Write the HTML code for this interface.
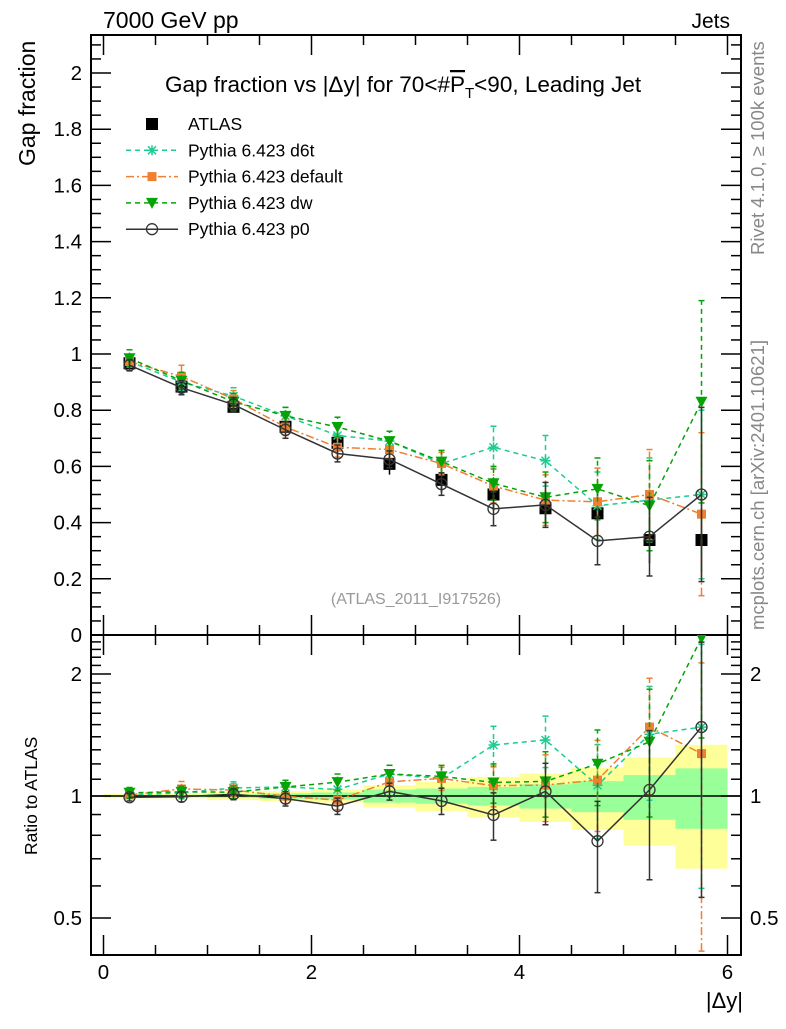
<!DOCTYPE html>
<html><head><meta charset="utf-8"><style>
body{margin:0;background:#fff}
svg{font-family:"Liberation Sans",sans-serif}
</style></head><body>
<svg id="c" width="786" height="1024" viewBox="0 0 786 1024" xmlns="http://www.w3.org/2000/svg">
<defs>
<clipPath id="cu"><rect x="91" y="35" width="650" height="600"/></clipPath>
<clipPath id="cr"><rect x="91" y="635" width="650" height="320"/></clipPath>
</defs>
<g id="bands" clip-path="url(#cr)"></g>
<g id="grid"></g>
<text x="103" y="28" font-size="23">7000 GeV pp</text>
<text x="730" y="28" font-size="21" text-anchor="end">Jets</text>
<text x="165" y="92" font-size="22.5">Gap fraction vs |Δy| for 70&lt;#<tspan text-decoration="overline">P</tspan><tspan font-size="15" dy="6">T</tspan><tspan dy="-6">&lt;90, Leading Jet</tspan></text>
<text transform="translate(35,166) rotate(-90)" font-size="23">Gap fraction</text>
<text transform="translate(37,855) rotate(-90)" font-size="17.5">Ratio to ATLAS</text>
<text x="743" y="1008" font-size="22" text-anchor="end">|Δy|</text>
<text transform="translate(764,255) rotate(-90)" font-size="18.5" fill="#888">Rivet 4.1.0, ≥ 100k events</text>
<text transform="translate(764,630) rotate(-90)" font-size="18.5" fill="#888">mcplots.cern.ch [arXiv:2401.10621]</text>
<text x="416" y="604" font-size="16" fill="#999" text-anchor="middle">(ATLAS_2011_I917526)</text>
<g id="marks"></g>
<g id="legend"></g>
</svg>
<script>
const binEdges=[0,0.5,1,1.5,2,2.5,3,3.5,4,4.5,5,5.5,6];
const atlas=[0.967,0.884,0.812,0.741,0.684,0.609,0.552,0.50,0.451,0.433,0.338,0.338];
const atlasTotRel=[0.013,0.013,0.023,0.029,0.037,0.063,0.083,0.115,0.137,0.175,0.246,0.338];
const atlasStatRel=[0.005,0.007,0.01,0.015,0.02,0.037,0.043,0.053,0.069,0.088,0.126,0.17];
const d6t=[0.973,0.90,0.85,0.78,0.71,0.69,0.61,0.668,0.62,0.46,0.48,0.50];
const d6tErr=[0.02,0.03,0.03,0.03,0.035,0.035,0.04,0.075,0.09,0.12,0.15,0.30];
const def=[0.973,0.92,0.84,0.74,0.668,0.66,0.61,0.53,0.48,0.474,0.50,0.43];
const defErr=[0.02,0.04,0.03,0.03,0.035,0.035,0.04,0.06,0.09,0.12,0.16,0.29];
const dw=[0.985,0.905,0.83,0.78,0.74,0.69,0.617,0.54,0.49,0.52,0.46,0.83];
const dwErr=[0.03,0.03,0.03,0.03,0.035,0.035,0.04,0.06,0.09,0.11,0.16,0.36];
const p0=[0.96,0.88,0.82,0.73,0.646,0.625,0.537,0.449,0.463,0.335,0.35,0.50];
const p0Err=[0.02,0.025,0.025,0.03,0.03,0.03,0.04,0.06,0.08,0.085,0.14,0.31];
const yTicks=[0,0.2,0.4,0.6,0.8,1,1.2,1.4,1.6,1.8,2];
const yTickLabels=["0","0.2","0.4","0.6","0.8","1","1.2","1.4","1.6","1.8","2"];
const xTicks=[0,2,4,6];
const rTicks=[0.5,1,2];

const NS="http://www.w3.org/2000/svg";
const X=v=>103.5+104*v;
const Y=v=>635-281*v;
const R=r=>796-122*Math.log2(r);
function el(p,t,a){const e=document.createElementNS(NS,t);for(const k in a)e.setAttribute(k,a[k]);p.appendChild(e);return e;}
const bands=document.getElementById('bands');
const grid=document.getElementById('grid');
const marks=document.getElementById('marks');
const legend=document.getElementById('legend');
const ctr=binEdges.slice(0,-1).map((e,i)=>(e+binEdges[i+1])/2);

atlas.forEach((v,i)=>{
 const x1=X(binEdges[i]),x2=X(binEdges[i+1]);
 const yt=R(1+atlasTotRel[i]),yb=R(1-atlasTotRel[i]);
 const b=el(bands,'rect',{x:x1,y:yt,width:x2-x1,height:yb-yt,fill:'#ffff99'});
 
 
 const gt=R(1+atlasStatRel[i]),gb=R(1-atlasStatRel[i]);
 const g=el(bands,'rect',{x:x1,y:gt,width:x2-x1,height:gb-gt,fill:'#99ff99'});
 
 
});
el(grid,'line',{x1:91,y1:R(1),x2:741,y2:R(1),stroke:'#000','stroke-width':1.5});

const f1=el(grid,'rect',{x:91,y:35,width:650,height:600,fill:'none',stroke:'#000','stroke-width':2});


const f2=el(grid,'rect',{x:91,y:635,width:650,height:320,fill:'none',stroke:'#000','stroke-width':2});



for(let k=0;k<=42;k++){const v=k*0.05;const y=Y(v);if(y<35)break;const maj=k%4==0;const L=maj?20:10;
 el(grid,'line',{x1:91,y1:y,x2:91+L,y2:y,stroke:'#000','stroke-width':1.5});
 el(grid,'line',{x1:741,y1:y,x2:741-L,y2:y,stroke:'#000','stroke-width':1.5});}
yTicks.forEach((v,i)=>{const t=el(grid,'text',{x:82,y:Y(v)+7,'font-size':20.5,'text-anchor':'end'});t.textContent=yTickLabels[i];
 
 });
const rminor=[0.5,0.6,0.7,0.8,0.9,1,1.1,1.2,1.3,1.4,1.5,1.6,1.7,1.8,1.9,2,2.1,2.2,2.3,2.4];
rminor.forEach(r=>{const y=R(r);const maj=rTicks.includes(r);const L=maj?20:10;
 el(grid,'line',{x1:91,y1:y,x2:91+L,y2:y,stroke:'#000','stroke-width':1.5});
 el(grid,'line',{x1:741,y1:y,x2:741-L,y2:y,stroke:'#000','stroke-width':1.5});});
rTicks.forEach(r=>{const t=el(grid,'text',{x:82,y:R(r)+7,'font-size':20.5,'text-anchor':'end'});t.textContent=String(r);
 
 
 const t2=el(grid,'text',{x:750,y:R(r)+7,'font-size':20.5});t2.textContent=String(r);
 
 });
for(let k=0;k<=12;k++){const v=k*0.5;const x=X(v);const maj=k%4==0;const L=maj?20:10;
 [[635,-1],[35,1],[955,-1],[635,1]].forEach(([y0,s])=>el(grid,'line',{x1:x,y1:y0,x2:x,y2:y0+s*L,stroke:'#000','stroke-width':1.5}));}
xTicks.forEach(v=>{const t=el(grid,'text',{x:X(v),y:979,'font-size':20.5,'text-anchor':'middle'});t.textContent=String(v);
 
 });

function marker(g,type,x,y,col){
 if(type=='sq')return el(g,'rect',{x:x-6,y:y-6,width:12,height:12,fill:'#000'});
 if(type=='osq')return el(g,'rect',{x:x-4.5,y:y-4.5,width:9,height:9,fill:col});
 if(type=='tri')return el(g,'path',{d:`M${x-6},${y-5}L${x+6},${y-5}L${x},${y+6}Z`,fill:col});
 if(type=='circ')return el(g,'circle',{cx:x,cy:y,r:5.5,fill:'none',stroke:col,'stroke-width':1.3});
 if(type=='star'){return el(g,'path',{d:`M${x-5},${y}H${x+5}M${x},${y-5}V${y+5}M${x-4},${y-4}L${x+4},${y+4}M${x-4},${y+4}L${x+4},${y-4}`,stroke:col,'stroke-width':1.5});}
}
const series=[
 {name:'d6t',vals:d6t,err:d6tErr,col:'#1ccc94',dash:'5,4',m:'star'},
 {name:'default',vals:def,err:defErr,col:'#f07f30',dash:'8,3,2,3',m:'osq'},
 {name:'dw',vals:dw,err:dwErr,col:'#05a305',dash:'5,4',m:'tri'},
 {name:'p0',vals:p0,err:p0Err,col:'#333',dash:'',m:'circ'}];

const ga=el(marks,'g',{'clip-path':'url(#cu)'});


atlas.forEach((v,i)=>{const e=v*atlasTotRel[i];
 el(ga,'line',{x1:X(ctr[i]),y1:Y(v-e),x2:X(ctr[i]),y2:Y(v+e),stroke:'#000','stroke-width':1.5});
 const m=marker(ga,'sq',X(ctr[i]),Y(v));
 
 });

series.forEach(s=>{
 [['u',Y,v=>v,'cu'],['r',R,(v,i)=>v/atlas[i],'cr']].forEach(([pn,F,tr,clip])=>{
  const g=el(marks,'g',{'clip-path':`url(#${clip})`});
  
  
  const pts=s.vals.map((v,i)=>`${X(ctr[i])},${F(tr(v,i))}`).join(' ');
  const a={points:pts,fill:'none',stroke:s.col,'stroke-width':1.5};if(s.dash)a['stroke-dasharray']=s.dash;
  el(g,'polyline',a);
  s.vals.forEach((v,i)=>{const lo=Math.max(v-s.err[i],0.001),hi=v+s.err[i];const x=X(ctr[i]);
   const y1=F(tr(lo,i)),y2=F(tr(hi,i));
   const b={x1:x,y1:y1,x2:x,y2:y2,stroke:s.col,'stroke-width':1.5};if(s.dash)b['stroke-dasharray']=s.dash;
   el(g,'line',b);
   el(g,'line',{x1:x-3,y1:y1,x2:x+3,y2:y1,stroke:s.col,'stroke-width':1.5});
   el(g,'line',{x1:x-3,y1:y2,x2:x+3,y2:y2,stroke:s.col,'stroke-width':1.5});
   const m=marker(g,s.m,x,F(tr(v,i)),s.col);
   
   });
 });
});

const legRows=[['ATLAS','sq','#000',null],['Pythia 6.423 d6t','star','#1ccc94','5,4'],['Pythia 6.423 default','osq','#f07f30','8,3,2,3'],['Pythia 6.423 dw','tri','#05a305','5,4'],['Pythia 6.423 p0','circ','#333','']];
legRows.forEach((r,i)=>{const y=124+i*26.3;
 const g=el(legend,'g',{});
 
 
 if(r[3]!==null){const a={x1:126,y1:y,x2:178,y2:y,stroke:r[2],'stroke-width':1.5};if(r[3])a['stroke-dasharray']=r[3];el(g,'line',a);}
 marker(g,r[1],152,y,r[2]);
 const t=el(g,'text',{x:188,y:y+6,'font-size':17.5});t.textContent=r[0];});
</script>
</body></html>
